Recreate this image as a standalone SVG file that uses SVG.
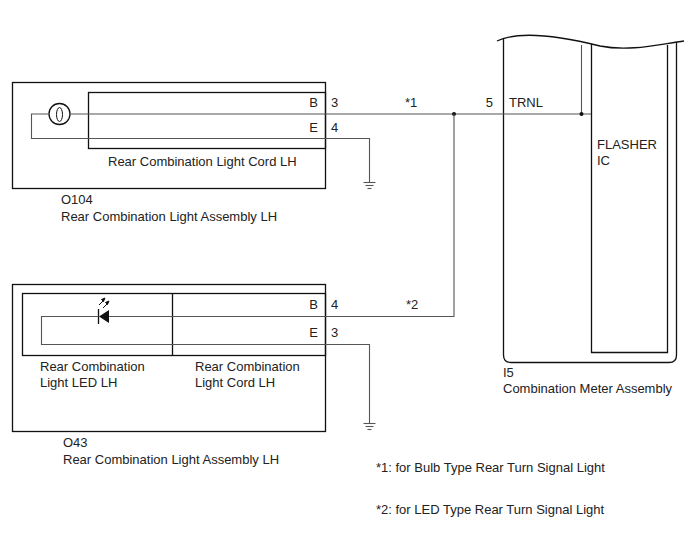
<svg xmlns="http://www.w3.org/2000/svg" width="688" height="560" viewBox="0 0 688 560">
<style>
text{font-family:"Liberation Sans",Arial,sans-serif;font-size:13px;fill:#222}
.box{fill:none;stroke:#111;stroke-width:1.3}
.w{fill:none;stroke:#555;stroke-width:1.1}
.g{fill:none;stroke:#555;stroke-width:1.1}
.r{text-anchor:end}
</style>
<defs>
<g id="gnd" class="g"><line x1="-6" y1="0" x2="6" y2="0"/><line x1="-4" y1="3" x2="4" y2="3"/><line x1="-2" y1="6" x2="2" y2="6"/></g>
</defs>
<rect width="688" height="560" fill="#fff"/>

<g id="O104">
<rect class="box" x="12.5" y="82.5" width="313" height="106"/>
<rect class="box" x="88.5" y="92.5" width="237" height="56"/>
<circle cx="59.5" cy="114" r="10.5" fill="none" stroke="#111" stroke-width="1.3"/>
<ellipse cx="59.5" cy="114.5" rx="3" ry="7" fill="none" stroke="#111" stroke-width="1"/>
<text x="318" y="107" class="r">B</text><text x="331" y="107">3</text>
<text x="318" y="132" class="r">E</text><text x="331" y="132">4</text>
<text x="108" y="166">Rear Combination Light Cord LH</text>
<text x="61" y="204">O104</text>
<text x="61" y="221">Rear Combination Light Assembly LH</text>
</g>

<g id="O43">
<rect class="box" x="12.5" y="284.5" width="313" height="147"/>
<rect class="box" x="22.5" y="293.5" width="303" height="62"/>
<line class="box" x1="172.5" y1="293.5" x2="172.5" y2="355.5"/>
<line x1="98.5" y1="309" x2="98.5" y2="324" stroke="#111" stroke-width="1.3"/>
<polygon points="99,316.5 109,310 109,323" fill="#111"/>
<g stroke="#111" stroke-width="1" fill="#111">
<line x1="99" y1="305" x2="104" y2="300"/><polygon points="105,298 101.5,299.5 103.5,301.5"/>
<line x1="103" y1="308" x2="108" y2="303"/><polygon points="109,301 105.5,302.5 107.5,304.5"/>
</g>
<text x="318" y="309" class="r">B</text><text x="331" y="309">4</text>
<text x="318" y="337" class="r">E</text><text x="331" y="337">3</text>
<text x="40" y="371">Rear Combination</text>
<text x="40" y="387">Light LED LH</text>
<text x="195" y="371">Rear Combination</text>
<text x="195" y="387">Light Cord LH</text>
<text x="63" y="447">O43</text>
<text x="63" y="464">Rear Combination Light Assembly LH</text>
</g>

<g id="I5">
<path class="box" d="M497,41 C520,30 560,36 600,46 C630,52 660,44 684,41"/>
<path class="box" d="M503.5,38 V355 Q503.5,362.5 511,362.5 H669 Q676.5,362.5 676.5,355 V42"/>
<path class="box" d="M591.5,44 V352.5 H667.5 V45"/>
<text x="493" y="107" class="r">5</text>
<text x="509" y="107">TRNL</text>
<text x="597" y="149">FLASHER</text>
<text x="597" y="165">IC</text>
<text x="503" y="377">I5</text>
<text x="503" y="393">Combination Meter Assembly</text>
</g>

<g id="connectors">
<polyline class="w" points="70,114 591,114"/>
<polyline class="w" points="49,114 31.5,114 31.5,138.5 369.5,138.5 369.5,182"/>
<use href="#gnd" x="369.5" y="182.5"/>
<line class="w" x1="581.5" y1="45" x2="581.5" y2="114"/>
<circle cx="581.5" cy="114" r="2" fill="#111"/>
<circle cx="454" cy="114" r="2" fill="#111"/>
<polyline class="w" points="454,114 454,316.5 109,316.5"/>
<polyline class="w" points="98.5,316.5 41.5,316.5 41.5,344.5 369.5,344.5 369.5,423"/>
<use href="#gnd" x="369.5" y="423.5"/>
<text x="405" y="107">*1</text>
<text x="406" y="309">*2</text>
</g>

<g id="notes">
<text x="376" y="472">*1: for Bulb Type Rear Turn Signal Light</text>
<text x="376" y="514">*2: for LED Type Rear Turn Signal Light</text>
</g>
</svg>
